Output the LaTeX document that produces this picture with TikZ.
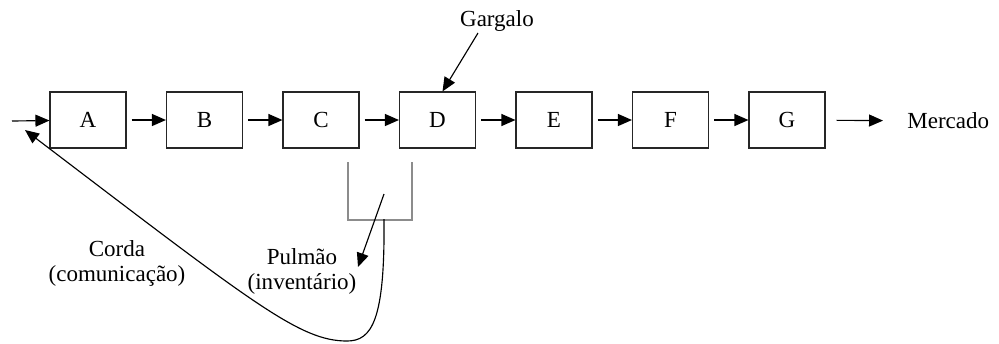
\documentclass[tikz,border=0pt]{standalone}
\usepackage{fontspec}
\setmainfont{Liberation Serif}
\usetikzlibrary{arrows.meta}
\begin{document}
\begin{tikzpicture}[x=0.02cm,y=-0.02cm,
  font=\fontsize{13.1}{14.2}\selectfont,
  stage/.style={draw=black!85, line width=0.65pt, minimum width=1.52cm, minimum height=1.12cm, inner sep=0pt},
  flow/.style={line width=0.65pt, -{Triangle[length=0.28cm,width=0.24cm]}},
  label/.style={inner sep=0pt, align=center}]
\useasboundingbox (0,0) rectangle (999,343);

% production stages
\foreach \n [count=\i from 0] in {A,B,C,D,E,F,G}
  \node[stage] (\n) at (88+116.5*\i,120) {\n};

% material flow
\coordinate (in) at (12,121);
\draw[flow] (in) -- (A);
\draw[flow, shorten <=0.1cm] (A) -- (B);
\draw[flow, shorten <=0.1cm] (B) -- (C);
\draw[flow, shorten <=0.1cm] (C) -- (D);
\draw[flow, shorten <=0.1cm] (D) -- (E);
\draw[flow, shorten <=0.1cm] (E) -- (F);
\draw[flow, shorten <=0.1cm] (F) -- (G);
\node[label, anchor=west] (M) at (907,121) {Mercado};
\draw[flow, shorten <=0.22cm, shorten >=0.48cm] (G) -- (M);

% bottleneck
\node[label] (garg) at (497,21) {Gargalo};
\coordinate (gtail) at (478,33);
\draw[flow] (gtail) -- ([xshift=0.1cm]D.north);

% buffer
\coordinate (bufTL) at (348,162);
\coordinate (bufBL) at (348,220);
\coordinate (bufBR) at (412,220);
\coordinate (bufTR) at (412,162);
\draw[black!45, line width=0.65pt] (bufTL) -- (bufBL) -- (bufBR) -- (bufTR);
\coordinate (ptail) at (384,194);
\coordinate (phead) at (358,267);
\draw[flow] (ptail) -- (phead);
\node[label] (pulmao) at (302,271) {Pulmão\\(inventário)};

% rope back to the first stage
\coordinate (rstart) at (384,219);
\coordinate (rbottom) at (347,341);
\coordinate (rend) at (25,130);
\draw[flow] (rstart) .. controls (385,320) and (372,341) .. (rbottom)
  .. controls (300,341) and (255,305) .. (rend);
\node[label] (corda) at (117,263) {Corda\\(comunicação)};
\end{tikzpicture}
\end{document}
